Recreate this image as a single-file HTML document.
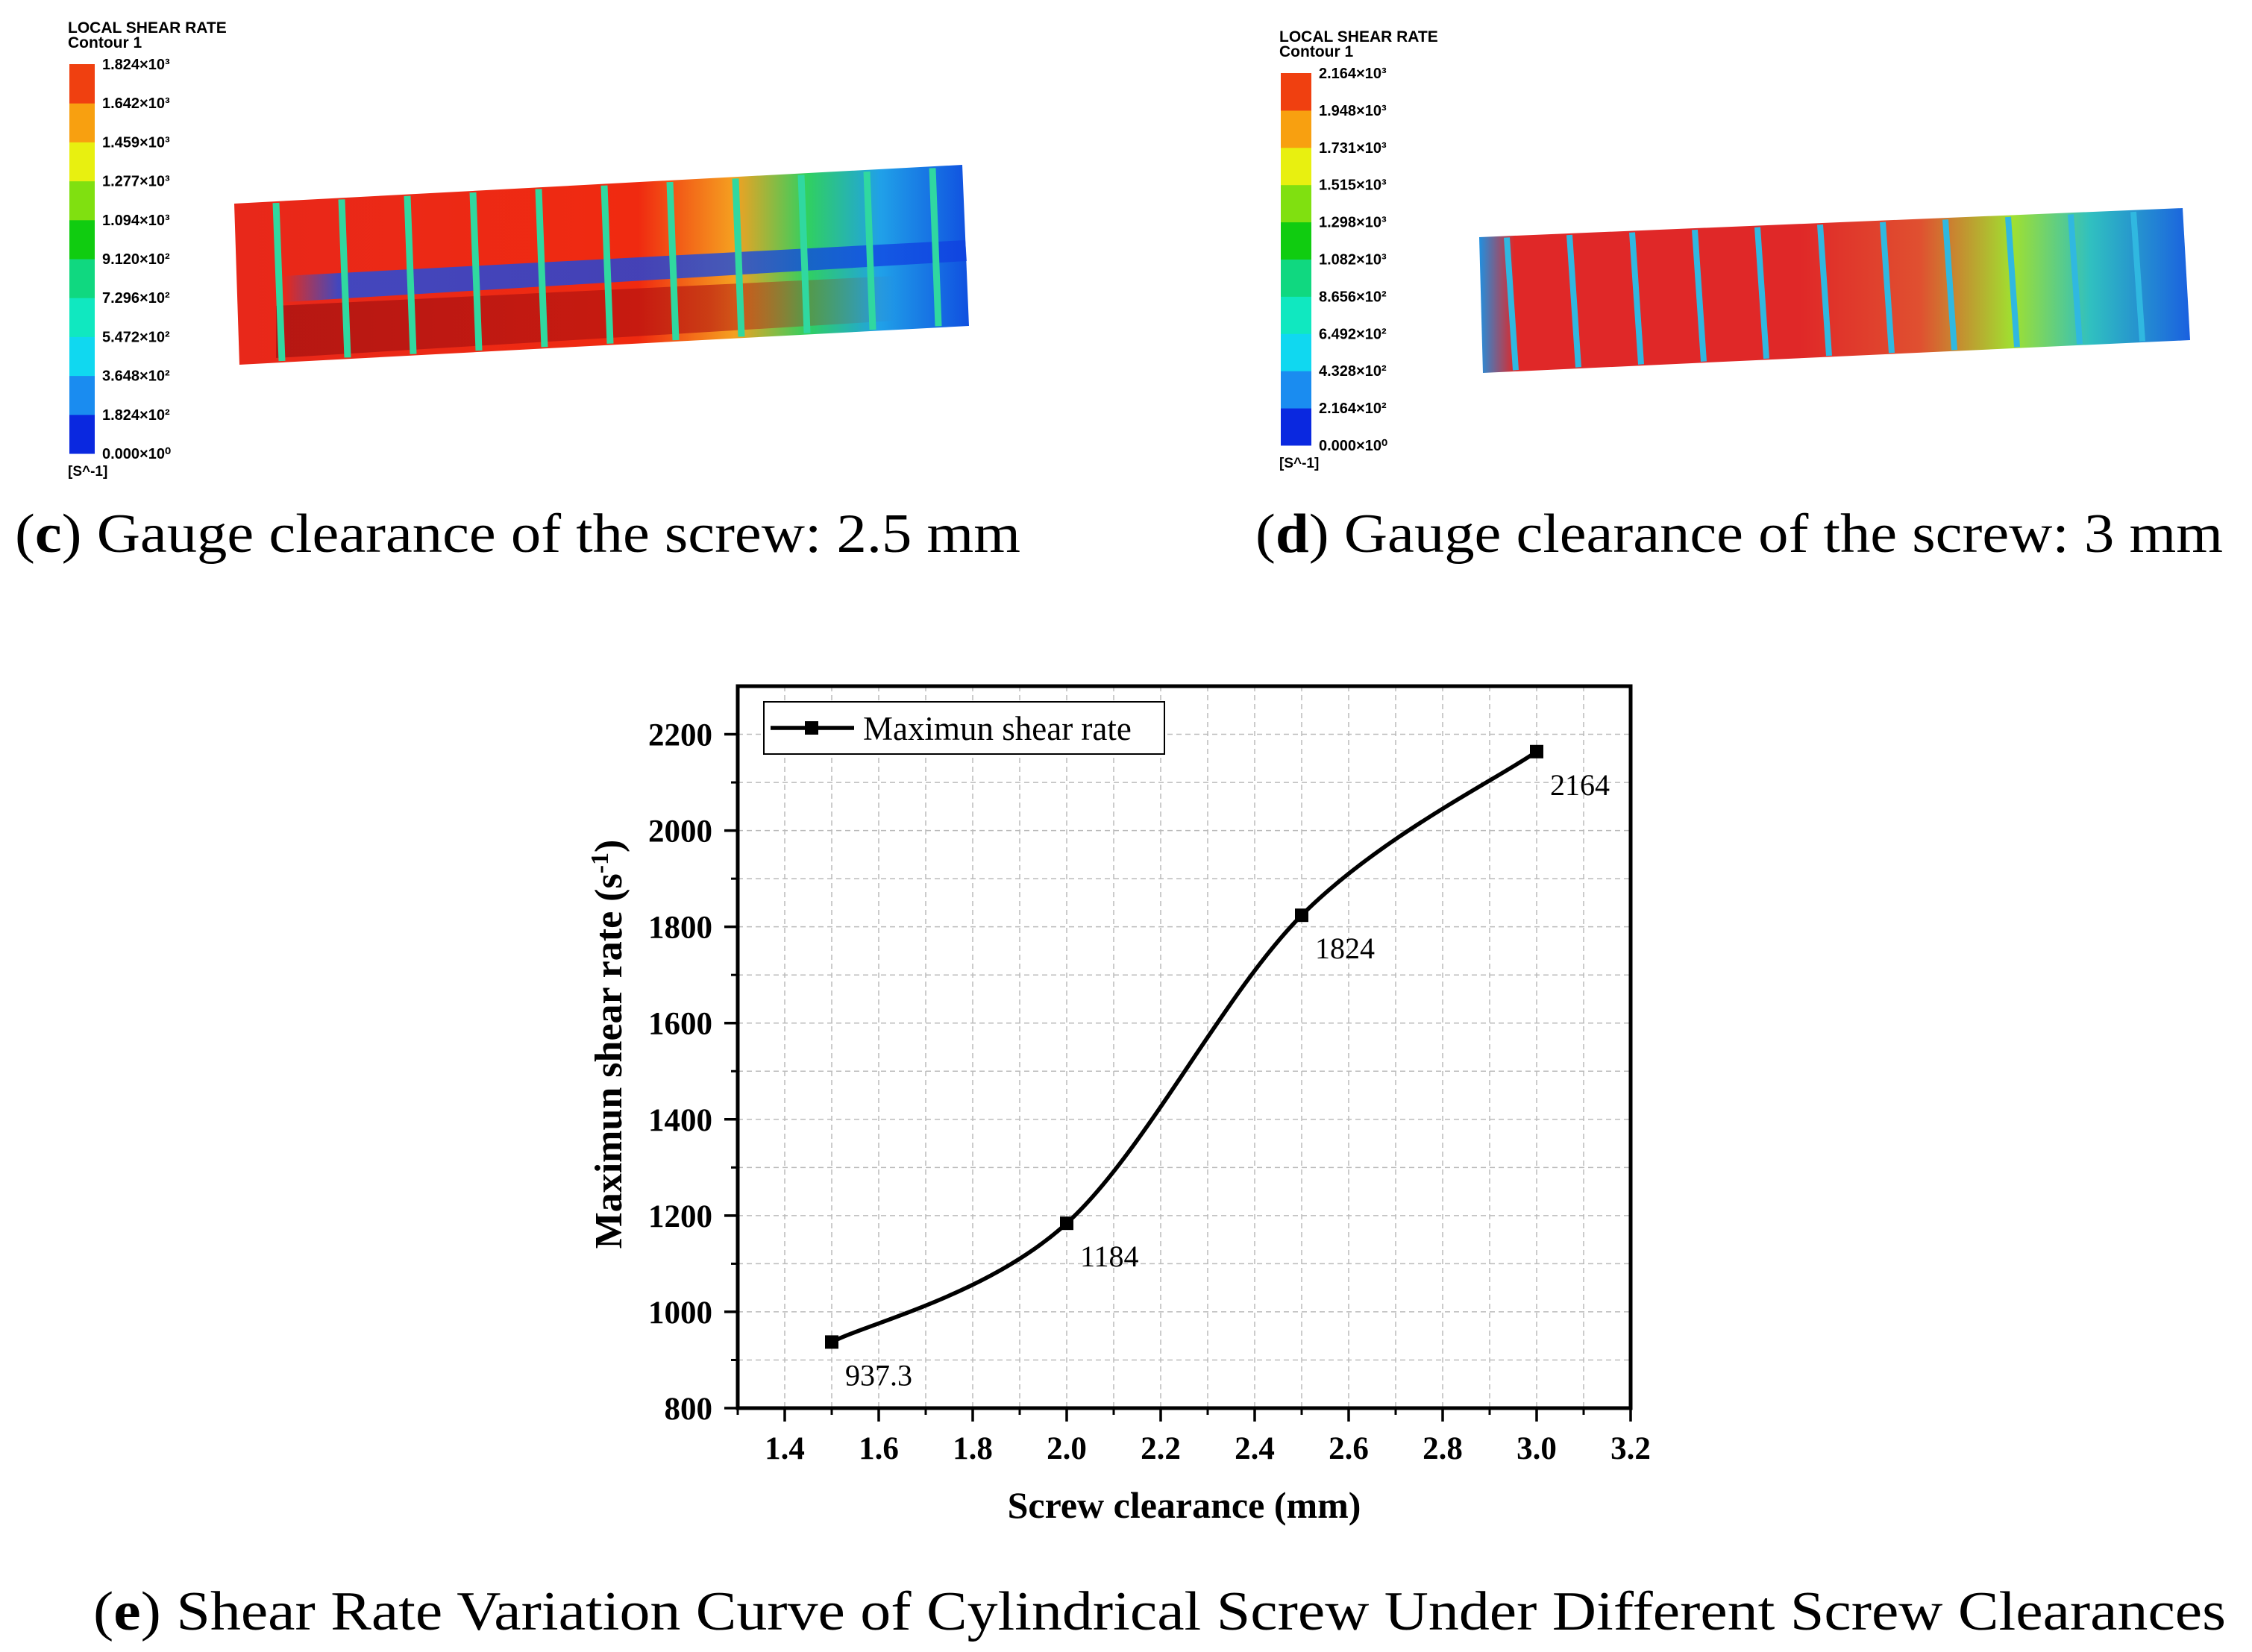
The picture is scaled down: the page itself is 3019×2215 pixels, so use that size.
<!DOCTYPE html>
<html><head><meta charset="utf-8"><style>
html,body{margin:0;padding:0;background:#fff;}
svg{display:block;}
text{font-family:"Liberation Serif",serif;}
.sans{font-family:"Liberation Sans",sans-serif;}
</style></head><body>
<svg id="fig" width="3019" height="2215" viewBox="0 0 3019 2215" xmlns="http://www.w3.org/2000/svg">
<defs>
<linearGradient id="cylC" x1="0" y1="0" x2="1" y2="0">
<stop offset="0" stop-color="#e8281a"/><stop offset="0.55" stop-color="#f02a10"/><stop offset="0.68" stop-color="#f5a020"/><stop offset="0.78" stop-color="#30d060"/><stop offset="0.88" stop-color="#20a0e8"/><stop offset="1" stop-color="#1050e0"/>
</linearGradient>
<linearGradient id="bandC" x1="0" y1="0" x2="1" y2="0">
<stop offset="0" stop-color="#1060f0" stop-opacity="0"/><stop offset="0.08" stop-color="#1050f0" stop-opacity="0.9"/><stop offset="1" stop-color="#1040e0" stop-opacity="0.9"/>
</linearGradient>
<linearGradient id="bandC2" x1="0" y1="0" x2="1" y2="0">
<stop offset="0" stop-color="#a01010" stop-opacity="0.7"/><stop offset="0.7" stop-color="#b01010" stop-opacity="0.6"/><stop offset="1" stop-color="#b01010" stop-opacity="0"/>
</linearGradient>
<linearGradient id="cylD" x1="0" y1="0" x2="1" y2="0">
<stop offset="0" stop-color="#2090e0"/><stop offset="0.05" stop-color="#e02828"/><stop offset="0.45" stop-color="#e02828"/><stop offset="0.62" stop-color="#e05030"/><stop offset="0.75" stop-color="#a0e030"/><stop offset="0.86" stop-color="#30c0c0"/><stop offset="1" stop-color="#1a60e0"/>
</linearGradient>
</defs>
<g id="panelC"></g>
<g id="panelD"></g>
<text x="20" y="740" font-size="74" textLength="1348" lengthAdjust="spacingAndGlyphs">(<tspan font-weight="bold">c</tspan>) Gauge clearance of the screw: 2.5 mm</text>
<text x="1683" y="740" font-size="74" textLength="1297" lengthAdjust="spacingAndGlyphs">(<tspan font-weight="bold">d</tspan>) Gauge clearance of the screw: 3 mm</text>
<g id="chart"></g>
<text x="125" y="2185" font-size="74" textLength="2859" lengthAdjust="spacingAndGlyphs">(<tspan font-weight="bold">e</tspan>) Shear Rate Variation Curve of Cylindrical Screw Under Different Screw Clearances</text>
</svg>
<script>
const NS='http://www.w3.org/2000/svg';
function mk(tag,attrs,parent){const e=document.createElementNS(NS,tag);for(const k in attrs)e.setAttribute(k,attrs[k]);parent.appendChild(e);return e;}

// ---- contour panels ----
const bandColors=['#0a28e0','#1a8cf0','#10d8f0','#10e8c0','#10d880','#10cc10','#80e010','#e8f010','#f8a010','#f04010'];
const labelsC=['0.000×10⁰','1.824×10²','3.648×10²','5.472×10²','7.296×10²','9.120×10²','1.094×10³','1.277×10³','1.459×10³','1.642×10³','1.824×10³'];
const labelsD=['0.000×10⁰','2.164×10²','4.328×10²','6.492×10²','8.656×10²','1.082×10³','1.298×10³','1.515×10³','1.731×10³','1.948×10³','2.164×10³'];
function colorbar(g,x,yTop,yBot,w,labels,name){
  const h=(yBot-yTop)/10;
  for(let i=0;i<10;i++){
    const r=mk('rect',{x:x,y:yBot-(i+1)*h,width:w,height:h+0.5,fill:bandColors[i]},g);
    
    
  }
  for(let i=0;i<=10;i++){
    const t=mk('text',{x:x+w+10,y:yBot-i*h+7,'font-size':20,class:'sans','font-weight':'bold'},g);
    t.textContent=labels[i];
    
    
  }
  const a=mk('text',{x:x-2,y:yTop-42,'font-size':21,class:'sans','font-weight':'bold'},g);a.textContent='LOCAL SHEAR RATE';
  
  const b=mk('text',{x:x-2,y:yTop-22,'font-size':21,class:'sans','font-weight':'bold'},g);b.textContent='Contour 1';
  
  const u=mk('text',{x:x-2,y:yBot+30,'font-size':19,class:'sans','font-weight':'bold'},g);u.textContent='[S^-1]';
  
}
const gC=document.getElementById('panelC');
colorbar(gC,93,86,608,34,labelsC,'colorbar-c');
let p=mk('polygon',{points:'314,273 1290,221 1299,437 321,489',fill:'url(#cylC)'},gC);

p=mk('polygon',{points:'380,370 1294,322 1296,350 380,405',fill:'url(#bandC)',opacity:'0.85'},gC);

p=mk('polygon',{points:'370,410 1200,370 1200,430 370,480',fill:'url(#bandC2)'},gC);

for(let i=0;i<11;i++){const x=370+i*88;
  const l=mk('line',{x1:x,y1:273-(x-314)*0.053+2,x2:x+8,y2:489-(x-314)*0.053-2,stroke:'#30d8a0','stroke-width':9},gC);
  }
const gD=document.getElementById('panelD');
colorbar(gD,1717,98,597,41,labelsD,'colorbar-d');
p=mk('polygon',{points:'1983,318 2926,279 2936,456 1988,500',fill:'url(#cylD)'},gD);

for(let i=0;i<11;i++){const x=2020+i*84;
  const l=mk('line',{x1:x,y1:318-(x-1983)*0.041+2,x2:x+12,y2:500-(x-1983)*0.046-2,stroke:'#30b8e0','stroke-width':8},gD);
  }

// ---- chart data ----
const xValues=[1.5,2.0,2.5,3.0];
const yValues=[937.3,1184,1824,2164];
const pointLabels=['937.3','1184','1824','2164'];
const xTicks=[1.4,1.6,1.8,2.0,2.2,2.4,2.6,2.8,3.0,3.2];
const xTickLabels=['1.4','1.6','1.8','2.0','2.2','2.4','2.6','2.8','3.0','3.2'];
const yTicks=[800,1000,1200,1400,1600,1800,2000,2200];
const yTickLabels=['800','1000','1200','1400','1600','1800','2000','2200'];

const L=989,R=2186,T=920,B=1888,XMIN=1.3,XMAX=3.2,YMIN=800,YMAX=2300;
const sx=v=>L+(v-XMIN)/(XMAX-XMIN)*(R-L);
const sy=v=>B-(v-YMIN)/(YMAX-YMIN)*(B-T);
const g=document.getElementById('chart');

// grid
for(let v=1.4;v<3.25;v+=0.1){const x=sx(v);
  const l=mk('line',{x1:x,y1:T,x2:x,y2:B,stroke:'#bbb','stroke-width':1.5,'stroke-dasharray':'7,5'},g);
  }
for(let v=900;v<2300;v+=100){const y=sy(v);
  const l=mk('line',{x1:L,y1:y,x2:R,y2:y,stroke:'#bbb','stroke-width':1.5,'stroke-dasharray':'7,5'},g);
  }
let fr=mk('rect',{x:L,y:T,width:R-L,height:B-T,fill:'none',stroke:'#000','stroke-width':5},g);

// minor ticks
for(let v=1.3;v<3.25;v+=0.1){const l=mk('line',{x1:sx(v),y1:B,x2:sx(v),y2:B+9,stroke:'#000','stroke-width':3},g);
  }
for(let v=900;v<2300;v+=200){const l=mk('line',{x1:L,y1:sy(v),x2:L-9,y2:sy(v),stroke:'#000','stroke-width':3},g);
  }
xTicks.forEach((v,i)=>{
  const l=mk('line',{x1:sx(v),y1:B,x2:sx(v),y2:B+18,stroke:'#000','stroke-width':3.5},g);
  
  const t=mk('text',{x:sx(v),y:B+68,'font-size':43,'font-weight':'bold','text-anchor':'middle'},g);
  t.textContent=xTickLabels[i];
  
});
yTicks.forEach((v,i)=>{
  const l=mk('line',{x1:L,y1:sy(v),x2:L-18,y2:sy(v),stroke:'#000','stroke-width':3.5},g);
  
  const t=mk('text',{x:L-34,y:sy(v)+15,'font-size':43,'font-weight':'bold','text-anchor':'end'},g);
  t.textContent=yTickLabels[i];
  
});
let xt=mk('text',{x:(L+R)/2,y:2035,'font-size':50,'font-weight':'bold','text-anchor':'middle'},g);
xt.textContent='Screw clearance (mm)';

let yt=mk('text',{x:0,y:0,'font-size':52,'font-weight':'bold','text-anchor':'middle',transform:'translate(833,1400) rotate(-90)'},g);
yt.innerHTML='Maximun shear rate (s<tspan baseline-shift="super" font-size="34">-1</tspan>)';


// curve (Catmull-Rom through data points)
const P=xValues.map((v,i)=>[sx(v),sy(yValues[i])]);
let d='M'+P[0][0]+','+P[0][1];
for(let i=0;i<P.length-1;i++){
  const p0=P[Math.max(i-1,0)],p1=P[i],p2=P[i+1],p3=P[Math.min(i+2,P.length-1)];
  const c1=[p1[0]+(p2[0]-p0[0])/6,p1[1]+(p2[1]-p0[1])/6];
  const c2=[p2[0]-(p3[0]-p1[0])/6,p2[1]-(p3[1]-p1[1])/6];
  d+=` C${c1[0]},${c1[1]} ${c2[0]},${c2[1]} ${p2[0]},${p2[1]}`;
}
const line=mk('path',{d:d,fill:'none',stroke:'#000','stroke-width':5.5},g);

P.forEach((pt,i)=>{
  const m=mk('rect',{x:pt[0]-9,y:pt[1]-9,width:18,height:18,fill:'#000'},g);
  
  const t=mk('text',{x:pt[0]+18,y:pt[1]+58,'font-size':40},g);
  t.textContent=pointLabels[i];
  
});
// legend
const lg=mk('g',{},g);

mk('rect',{x:1024,y:941,width:537,height:70,fill:'#fff',stroke:'#000','stroke-width':2},lg);
mk('line',{x1:1033,y1:976,x2:1145,y2:976,stroke:'#000','stroke-width':5.5},lg);
mk('rect',{x:1079,y:967,width:18,height:18,fill:'#000'},lg);
const lt=mk('text',{x:1157,y:992,'font-size':45},lg);
lt.textContent='Maximun shear rate';

</script>
</body></html>
